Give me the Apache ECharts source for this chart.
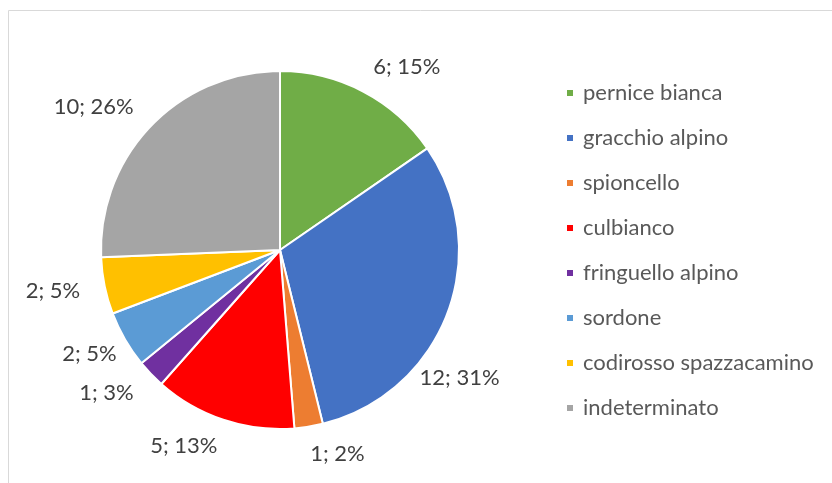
<!DOCTYPE html>
<html>
<head>
<meta charset="utf-8">
<script src="https://cdn.jsdelivr.net/npm/echarts@6/dist/echarts.min.js"></script>
<style>
html,body{margin:0;padding:0;background:#fff;}
#chart{width:832px;height:483px;}
</style>
</head>
<body>
<div id="chart"></div>
<script>
const categories = ['pernice bianca','gracchio alpino','spioncello','culbianco','fringuello alpino','sordone','codirosso spazzacamino','indeterminato'];
const counts = [6, 12, 1, 5, 1, 2, 2, 10];
const percentLabels = [15, 31, 2, 13, 3, 5, 5, 26];
const colors = ['#70AD47','#4472C4','#ED7D31','#FF0000','#7030A0','#5B9BD5','#FFC000','#A5A5A5'];

const FONT = 'Lato';
const chart = echarts.init(document.getElementById('chart'), null, {renderer:'canvas'});
chart.setOption({
  animation: false,
  color: colors,
  graphic: [{
    type: 'rect', silent: true,
    shape: {x: 8.5, y: 10.5, width: 900, height: 600},
    style: {fill: 'none', stroke: '#D9D9D9', lineWidth: 1}
  }],
  legend: {
    orient: 'vertical',
    left: 565, top: 82,
    padding: 0,
    icon: 'rect',
    itemWidth: 8, itemHeight: 8,
    itemGap: 23,
    textStyle: {fontFamily: FONT, fontSize: 22, color: '#595959', lineHeight: 22, padding: [0,0,0,4]},
    data: categories
  },
  series: [{
    type: 'pie',
    center: [280, 250],
    radius: 179,
    startAngle: 90,
    clockwise: true,
    avoidLabelOverlap: false,
    itemStyle: {borderColor: '#fff', borderWidth: 2},
    label: {
      show: true,
      position: 'outside',
      fontFamily: FONT, fontSize: 22, color: '#404040',
      distanceToLabelLine: -3,
      formatter: p => counts[p.dataIndex] + '; ' + percentLabels[p.dataIndex] + '%'
    },
    labelLine: {show: false, length: 28, length2: 0},
    labelLayout: function (p) {
      if (p.dataIndex === 1) return {dx: -51, dy: 55};
      if (p.dataIndex === 5) return {dx: 13};
    },
    emphasis: {disabled: true},
    data: categories.map((c, i) => ({name: c, value: counts[i]}))
  }]
});
</script>
</body>
</html>
